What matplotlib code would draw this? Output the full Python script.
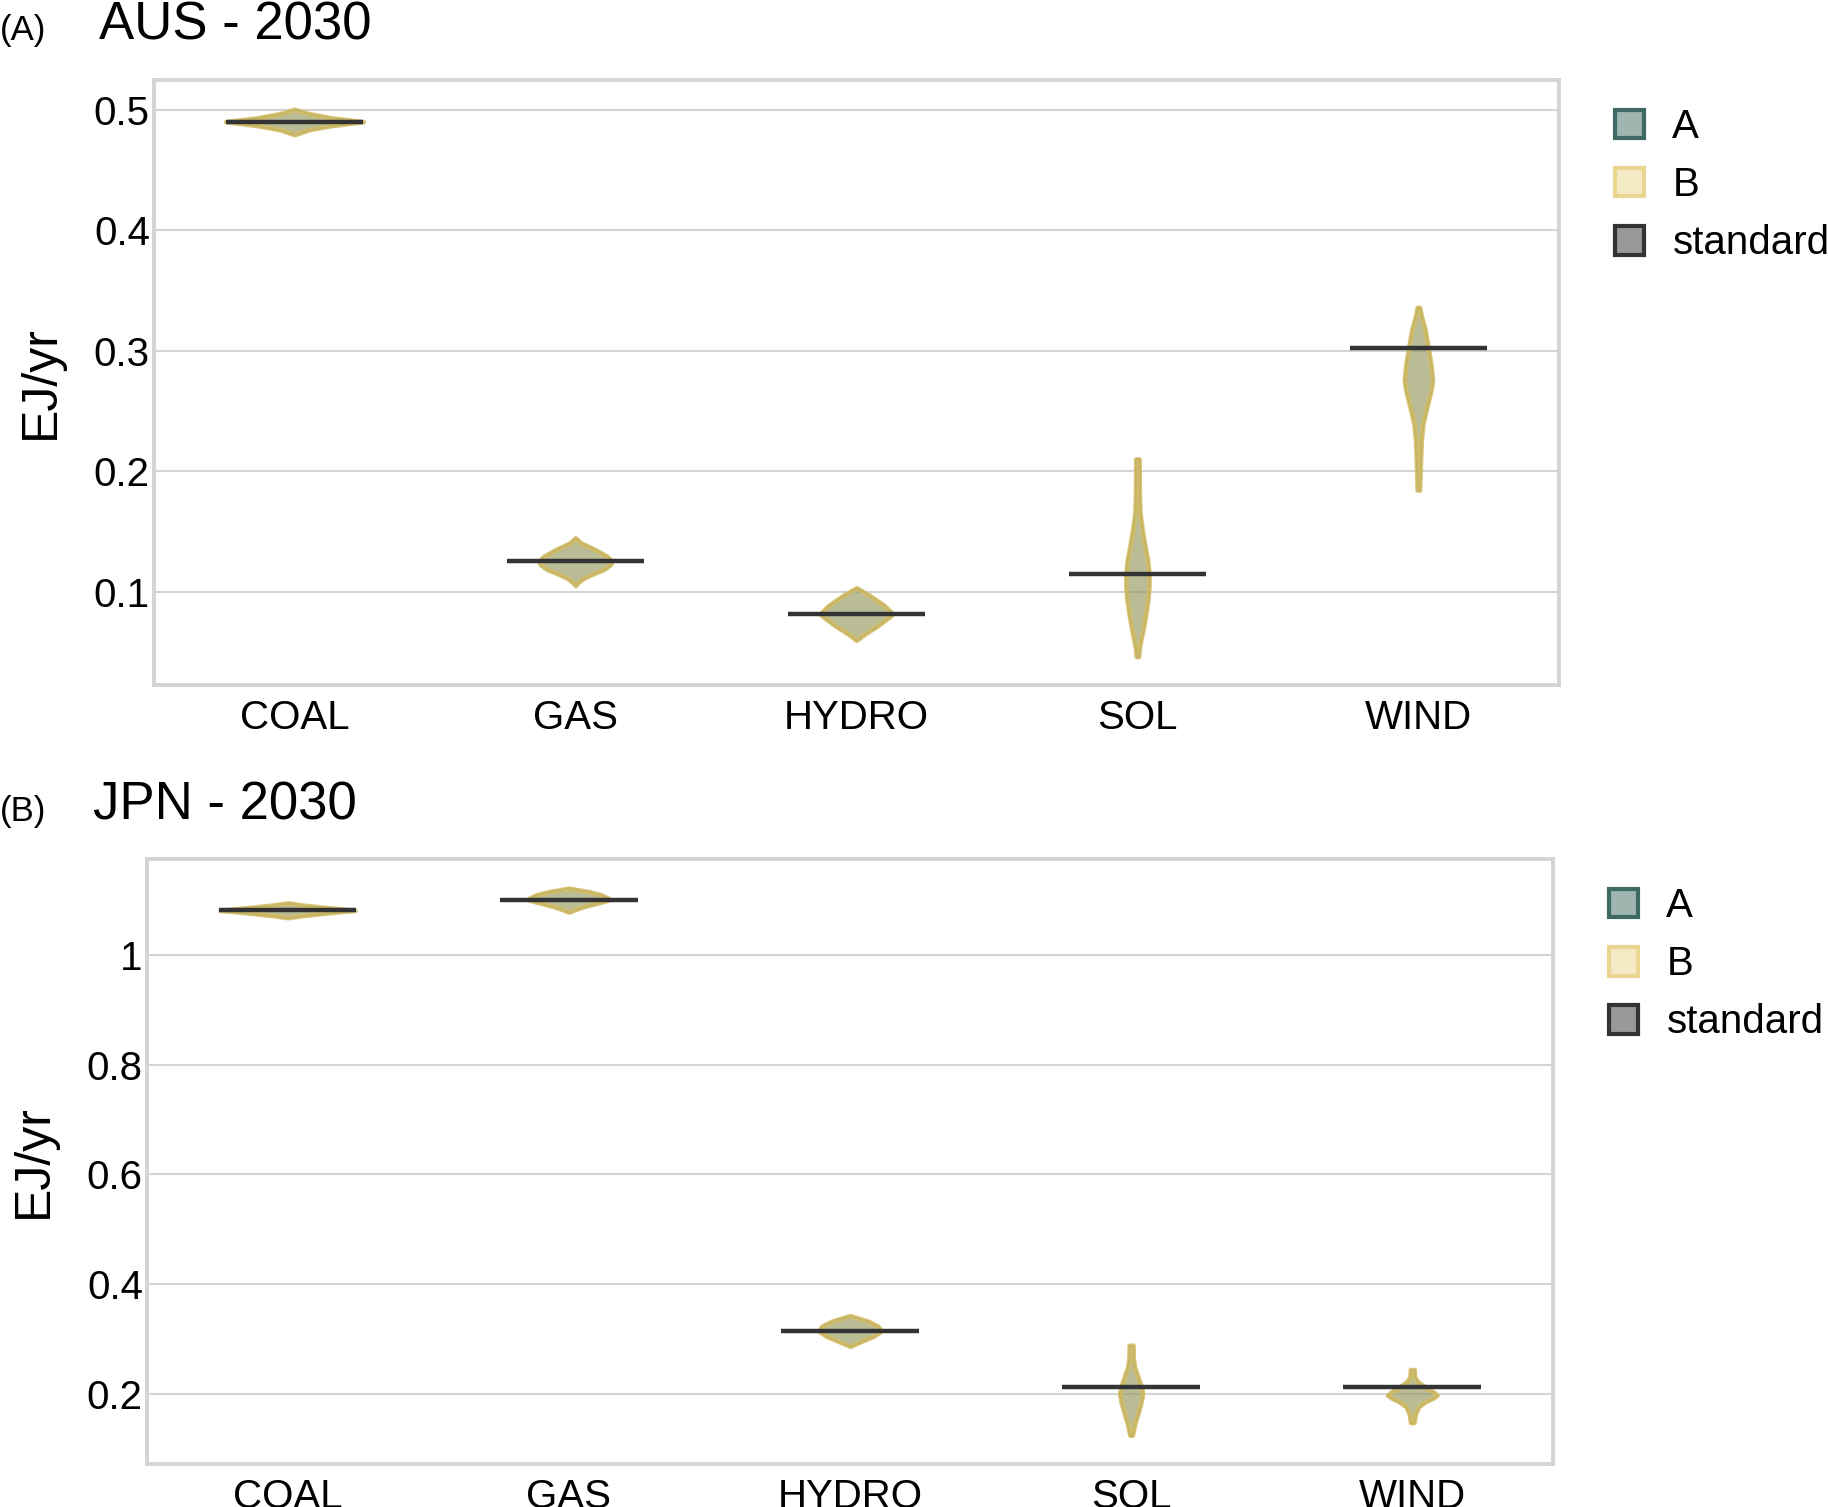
import matplotlib
matplotlib.use("Agg")
import matplotlib.pyplot as plt
from matplotlib.patches import Patch

plt.rcParams['font.family'] = ['Liberation Sans', 'DejaVu Sans']

categories = ["COAL", "GAS", "HYDRO", "SOL", "WIND"]
series = ["A", "B", "standard"]

# standard scenario values (EJ/yr)
aus_standard = [0.4903, 0.1252, 0.0816, 0.1150, 0.3020]
jpn_standard = [1.0806, 1.0997, 0.3146, 0.2125, 0.2125]

# violin outlines: value levels and half-widths (x units)
aus_prof_y = [
    [0.4795, 0.4835, 0.4870, 0.4903, 0.4935, 0.4970, 0.5005],
    [0.1050, 0.1077, 0.1113, 0.1155, 0.1183, 0.1225, 0.1252, 0.1294, 0.1349, 0.1404, 0.1446],
    [0.0597, 0.0652, 0.0708, 0.0777, 0.0805, 0.0833, 0.0888, 0.0971, 0.1032],
    [0.0461, 0.0516, 0.0599, 0.0682, 0.0820, 0.0931, 0.1041, 0.1152, 0.1263, 0.1373, 0.1512,
     0.1650, 0.1788, 0.1927, 0.2101],
    [0.1844, 0.2065, 0.2259, 0.2397, 0.2535, 0.2674, 0.2757, 0.2895, 0.3033, 0.3172, 0.3282, 0.3360],
]
aus_prof_w = [
    [0.0, 0.05, 0.13, 0.245, 0.13, 0.05, 0.0],
    [0.0, 0.01, 0.03, 0.07, 0.10, 0.125, 0.13, 0.112, 0.07, 0.02, 0.0],
    [0.0, 0.032, 0.07, 0.11, 0.125, 0.122, 0.097, 0.045, 0.0],
    [0.004, 0.006, 0.012, 0.02, 0.03, 0.037, 0.041, 0.041, 0.036, 0.027, 0.017,
     0.009, 0.007, 0.006, 0.006],
    [0.004, 0.007, 0.01, 0.016, 0.03, 0.045, 0.05, 0.044, 0.034, 0.024, 0.011, 0.004],
]
jpn_prof_y = [
    [1.0673, 1.0715, 1.0758, 1.0806, 1.0855, 1.0897, 1.0940],
    [1.0773, 1.0815, 1.0876, 1.0936, 1.0997, 1.1027, 1.1088, 1.1149, 1.1180, 1.1210],
    [0.2873, 0.2964, 0.3055, 0.3146, 0.3164, 0.3237, 0.3328, 0.3431],
    [0.1255, 0.1315, 0.1467, 0.1648, 0.1830, 0.2012, 0.2133, 0.2315, 0.2497, 0.2679, 0.2890],
    [0.1485, 0.1648, 0.1770, 0.1861, 0.1921, 0.1982, 0.2042, 0.2133, 0.2224, 0.2315, 0.2448],
]
jpn_prof_w = [
    [0.0, 0.06, 0.14, 0.24, 0.14, 0.06, 0.0],
    [0.0, 0.02, 0.055, 0.10, 0.143, 0.14, 0.115, 0.068, 0.03, 0.0],
    [0.0, 0.041, 0.083, 0.11, 0.11, 0.10, 0.065, 0.0],
    [0.004, 0.007, 0.013, 0.024, 0.034, 0.041, 0.036, 0.024, 0.012, 0.007, 0.007],
    [0.006, 0.011, 0.022, 0.045, 0.07, 0.088, 0.075, 0.045, 0.02, 0.008, 0.007],
]

aus_yticks = [0.1, 0.2, 0.3, 0.4, 0.5]
aus_yticklabels = ["0.1", "0.2", "0.3", "0.4", "0.5"]
jpn_yticks = [0.2, 0.4, 0.6, 0.8, 1.0]
jpn_yticklabels = ["0.2", "0.4", "0.6", "0.8", "1"]

A_FACE = (15 / 255, 70 / 255, 57 / 255, 0.40)
A_EDGE = '#2f6359'
B_FACE = (225 / 255, 200 / 255, 112 / 255, 0.40)
B_EDGE = (0.83, 0.74, 0.40, 0.9)
STD_COLOR = '#333333'
GRID = '#d4d4d4'

fig = plt.figure(figsize=(18.28, 15.07), dpi=100)
ax1 = fig.add_axes([0.0842, 0.5455, 0.7686, 0.4015])
ax2 = fig.add_axes([0.0804, 0.0285, 0.7691, 0.4015])


def draw(ax, prof_y, prof_w, std, ylim, yticks, yticklabels):
    for i in range(len(categories)):
        ys = prof_y[i]
        ws = prof_w[i]
        left = [i - w for w in ws]
        right = [i + w for w in ws]
        ax.fill_betweenx(ys, left, right, facecolor=A_FACE, edgecolor=A_EDGE,
                         linewidth=1.5, zorder=3)
        ax.fill_betweenx(ys, left, right, facecolor=B_FACE, edgecolor=B_EDGE,
                         linewidth=3.4, zorder=4)
        ax.hlines(std[i], i - 0.245, i + 0.245, color=STD_COLOR, linewidth=3.2,
                  zorder=5)
    ax.set_xlim(-0.5, 4.5)
    ax.set_ylim(*ylim)
    ax.set_xticks(range(len(categories)))
    ax.set_xticklabels(categories, fontsize=29)
    ax.set_yticks(yticks)
    ax.set_yticklabels(yticklabels, fontsize=29)
    ax.set_axisbelow(True)
    ax.grid(axis='y', color=GRID, linewidth=1.5)
    ax.grid(axis='x', visible=False)
    for s in ax.spines.values():
        s.set_color(GRID)
        s.set_linewidth(2.8)
    ax.tick_params(axis='x', direction='in', length=3, width=1.5, color='white',
                   top=True, pad=10)
    ax.tick_params(axis='y', length=0, pad=3)
    ax.set_ylabel("EJ/yr", fontsize=36)
    ax.yaxis.set_label_coords(-0.064, 0.5)
    handles = [
        Patch(facecolor=A_FACE, edgecolor='#3d6b63', linewidth=3),
        Patch(facecolor=B_FACE, edgecolor='#ead690', linewidth=3),
        Patch(facecolor='#999999', edgecolor=STD_COLOR, linewidth=3),
    ]
    ax.legend(handles, series, loc='upper left', bbox_to_anchor=(1.02, 1.0),
              frameon=False, fontsize=29, handlelength=0.72, handleheight=0.72,
              handletextpad=0.7, labelspacing=0.5, borderaxespad=0.3)


draw(ax1, aus_prof_y, aus_prof_w, aus_standard, (0.0225, 0.525),
     aus_yticks, aus_yticklabels)
draw(ax2, jpn_prof_y, jpn_prof_w, jpn_standard, (0.073, 1.174),
     jpn_yticks, jpn_yticklabels)

fig.text(0.0, 1 - 40 / 1507, "(A)", fontsize=25, va='baseline', ha='left')
fig.text(99 / 1828, 1 - 40 / 1507, "AUS - 2030", fontsize=38, va='baseline', ha='left')
fig.text(0.0, 1 - 821 / 1507, "(B)", fontsize=25, va='baseline', ha='left')
fig.text(93 / 1828, 1 - 820 / 1507, "JPN - 2030", fontsize=38, va='baseline', ha='left')

fig.savefig("out.png", dpi=100)
